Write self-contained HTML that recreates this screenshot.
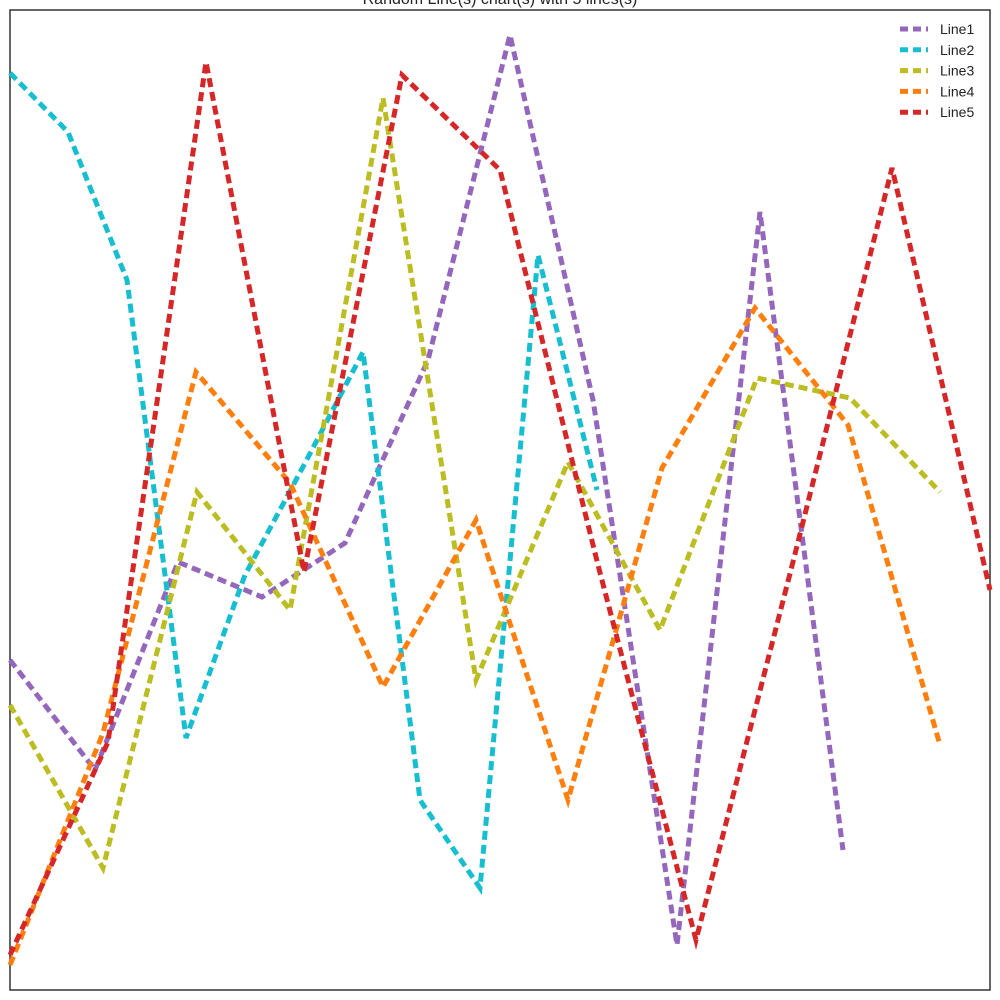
<!DOCTYPE html>
<html><head><meta charset="utf-8"><style>
html,body{margin:0;padding:0;background:#fff;width:1000px;height:1000px;overflow:hidden}
svg text{font-family:"Liberation Sans","DejaVu Sans",sans-serif}
</style></head><body>
<svg id="chart" width="1000" height="1000">
<text x="500" y="4" text-anchor="middle" font-size="16" fill="#222">Random Line(s) chart(s) with 5 lines(s)</text>
<rect x="10" y="10" width="980" height="980" fill="none" stroke="#333" stroke-width="1.5"/>
<g id="lines"></g>
<g id="legend"></g>
</svg>
<script>
const seriesNames = ["Line1","Line2","Line3","Line4","Line5"];
const seriesColors = ["#9467bd","#17becf","#bcbd22","#ff7f0e","#d62728"];
const line1X = [0,85,168,252,335,418,500,583,667,750,833];
const line1Y = [340,230,438,403,457,640,965,600,55,788,150];
const line2X = [0,58,117,176,235,294,353,410,470,528,587];
const line2Y = [927,868,720,262,425,535,648,200,112,745,510];
const line3X = [0,93,187,280,373,466,558,650,747,840,930];
const line3Y = [295,132,508,390,902,320,538,370,622,602,508];
const line4X = [0,93,186,280,373,466,558,652,745,838,930];
const line4Y = [35,267,628,517,313,480,200,532,692,575,255];
const line5X = [0,98,196,294,392,490,588,686,784,882,980];
const line5Y = [45,258,938,428,925,830,435,60,442,832,410];
const allX = [line1X,line2X,line3X,line4X,line5X];
const allY = [line1Y,line2Y,line3Y,line4Y,line5Y];
const xScale = v => 10 + v;
const yScale = v => 1000 - v;
const ns = "http://www.w3.org/2000/svg";
const g = document.getElementById("lines");
allX.forEach((xs, i) => {
  const p = document.createElementNS(ns, "polyline");
  p.setAttribute("points", xs.map((x, j) => xScale(x) + "," + yScale(allY[i][j])).join(" "));
  p.setAttribute("fill", "none");
  p.setAttribute("stroke", seriesColors[i]);
  p.setAttribute("stroke-width", "5");
  p.setAttribute("stroke-dasharray", "9,5");
  
  
  g.appendChild(p);
});
const lg = document.getElementById("legend");
seriesNames.forEach((n, i) => {
  const y = 29 + i * 20.8;
  const l = document.createElementNS(ns, "line");
  l.setAttribute("x1", 900); l.setAttribute("x2", 928);
  l.setAttribute("y1", y); l.setAttribute("y2", y);
  l.setAttribute("stroke", seriesColors[i]);
  l.setAttribute("stroke-width", "5");
  l.setAttribute("stroke-dasharray", "8,5");
  
  
  lg.appendChild(l);
  const t = document.createElementNS(ns, "text");
  t.setAttribute("x", 940); t.setAttribute("y", y + 5);
  t.setAttribute("font-size", "14"); t.setAttribute("fill", "#222");
  t.textContent = n;
  
  
  lg.appendChild(t);
});
</script>
</body></html>
